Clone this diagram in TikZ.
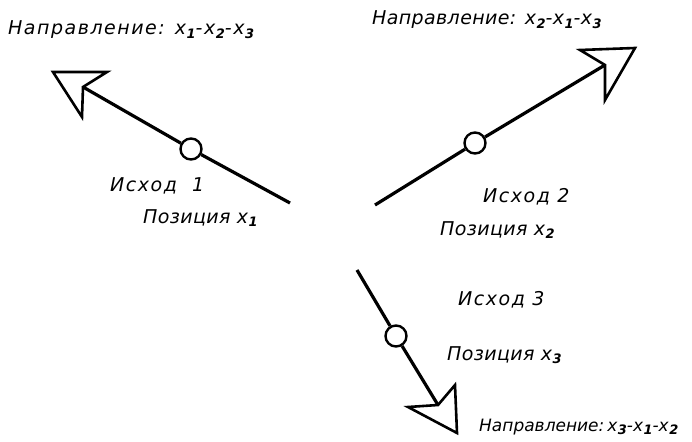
\documentclass[tikz,border=0pt]{standalone}
\usepackage{fontspec}
\setmainfont{DejaVu Sans}
\newfontfamily\wide{DejaVu Sans}[LetterSpace=8]
\newfontfamily\narrow{DejaVu Sans}[LetterSpace=2]
\newfontfamily\tight{DejaVu Sans}
\newcommand{\xsb}[1]{x\kern0.5pt\raisebox{-0.35ex}{\fontsize{13}{13}\selectfont\bfseries #1}}
\begin{document}
\begin{tikzpicture}[x=1pt,y=-1pt,
  ln/.style={line width=3.2pt},
  headshape/.style={line width=2.6pt, line join=miter, fill=white},
  knot/.style={circle, draw, line width=2.4pt, fill=white, minimum size=21pt, inner sep=0pt},
  lbl/.style={anchor=west, inner sep=0pt, font=\wide\fontsize{19}{19}\selectfont\itshape}]
\useasboundingbox (0,0) rectangle (692,441);
% arrow 1
\coordinate (s1) at (290,203);
\coordinate (n1) at (83,87);
\node[knot] (c1) at (191,149) {};
\draw[ln] (s1) -- (c1) -- (n1);
\draw[headshape] (53,72) -- (107,72) -- (n1) -- (82,117) -- cycle;
% arrow 2
\coordinate (s2) at (375,205);
\coordinate (n2) at (605,65);
\node[knot] (c2) at (475,143) {};
\draw[ln] (s2) -- (c2) -- (n2);
\draw[headshape] (635,48) -- (580,50) -- (n2) -- (605,100) -- cycle;
% arrow 3
\coordinate (s3) at (357,270);
\coordinate (n3) at (438,405);
\node[knot] (c3) at (396,336) {};
\draw[ln] (s3) -- (c3) -- (n3);
\draw[headshape] (457,433) -- (408,407) -- (n3) -- (455,385) -- cycle;
% labels
\node[lbl] (t1) at (8,30) {Направление: \xsb{1}-\xsb{2}-\xsb{3}};
\node[lbl, font=\narrow\fontsize{19}{19}\selectfont\itshape] (t2) at (372,20) {Направление: \xsb{2}-\xsb{1}-\xsb{3}};
\node[lbl, font=\tight\fontsize{17}{17}\selectfont\itshape] (t3) at (479,427) {Направление:\,\xsb{3}-\xsb{1}-\xsb{2}};
\node[lbl] (o1) at (110,186) {Исход\ \ 1};
\node[lbl, font=\narrow\fontsize{19}{19}\selectfont\itshape] (p1) at (143,218) {Позиция \xsb{1}};
\node[lbl] (o2) at (483,197) {Исход 2};
\node[lbl, font=\narrow\fontsize{19}{19}\selectfont\itshape] (p2) at (440,230) {Позиция \xsb{2}};
\node[lbl] (o3) at (458,300) {Исход 3};
\node[lbl, font=\narrow\fontsize{19}{19}\selectfont\itshape] (p3) at (447,355) {Позиция \xsb{3}};
\end{tikzpicture}
\end{document}
